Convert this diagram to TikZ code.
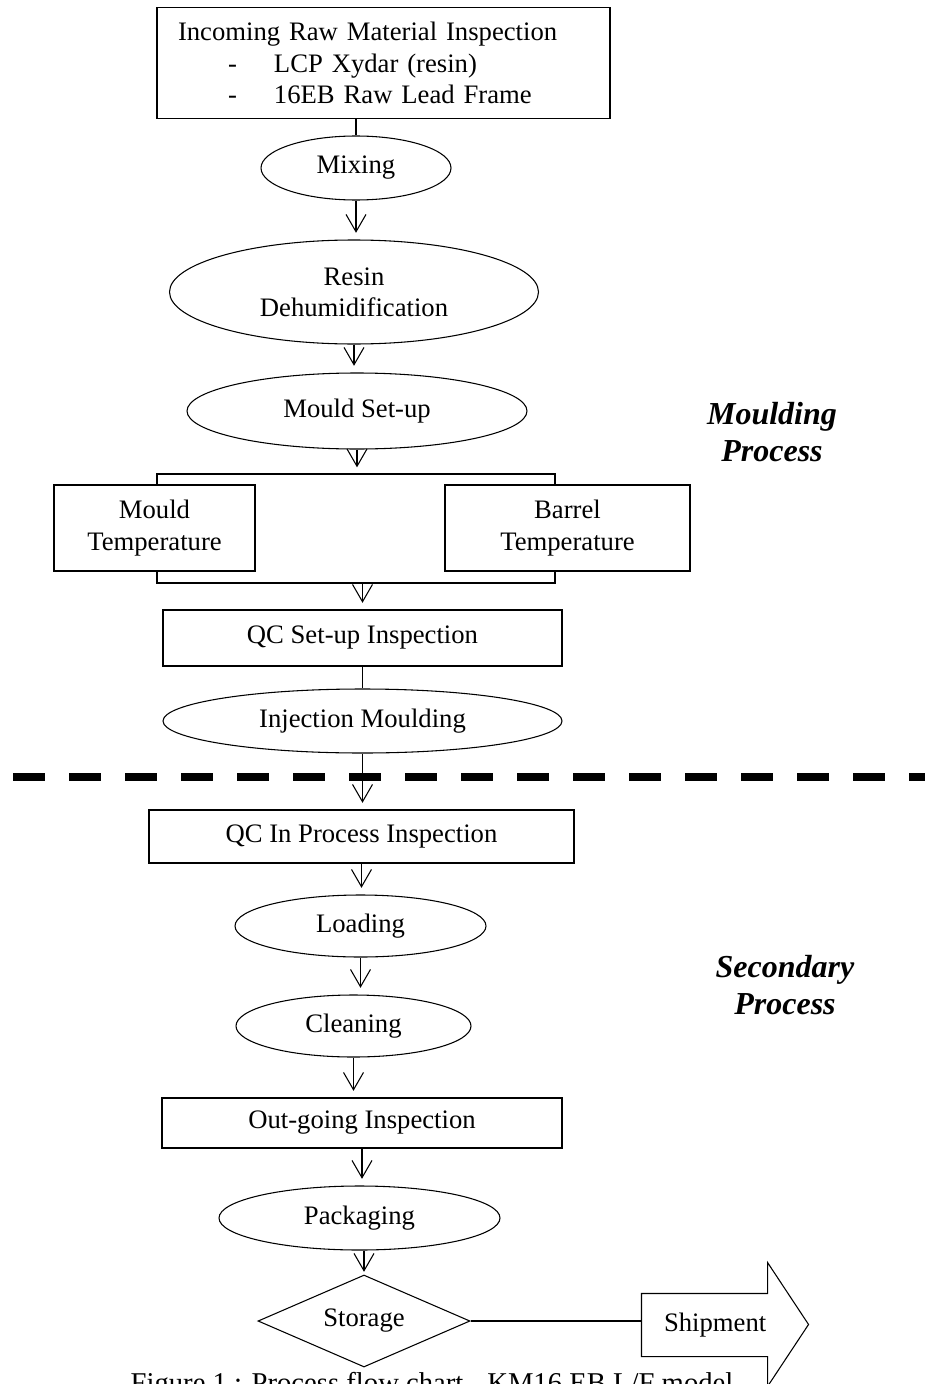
\documentclass[tikz,border=0pt]{standalone}
\usepackage{fontspec}
\setmainfont{Liberation Serif}
\usetikzlibrary{shapes.geometric,arrows.meta}
\newcommand{\itemline}[1]{\makebox[72pt][l]{\hspace*{37.5pt}-}#1}
\tikzset{
	stepnode/.style = {align=center, inner sep=0pt, text centered, line width=0.8pt, font=\fontsize{20}{23.5}\selectfont},
	procbox/.style = {stepnode, rectangle, draw=black},
	procell/.style = {stepnode, ellipse, draw=black},
	decide/.style = {stepnode, diamond, draw=black, aspect=2.2},
	boxsize/.style 2 args = {minimum width=#1*0.75pt, minimum height=#2*0.75pt},
	flow/.style = {draw=black, line width=0.8pt, -{Straight Barb[length=13pt,width=15pt]}, shorten >=5pt},
	link/.style = {draw=black, line width=0.8pt},
	stage/.style = {align=center, font=\fontsize{24}{28}\selectfont\bfseries\itshape},
	divide/.style = {line width=6pt, dash pattern=on 24pt off 18pt}
}
\begin{document}
\begin{tikzpicture}[x=0.75pt, y=-0.75pt]
	\useasboundingbox (0,0) rectangle (925,1384);
	\node [procbox, boxsize={453}{111}, align=left, text width=308.25pt, inner xsep=15.75pt] (inc) at (383.5,63) {Incoming Raw Material Inspection\\\itemline{LCP Xydar (resin)}\\\itemline{16EB Raw Lead Frame}};
	\node [procell, boxsize={190}{64}] (mix) at (356,168) {Mixing};
	\node [procell, boxsize={369}{104}] (resin) at (354,292) {Resin\\Dehumidification};
	\node [procell, boxsize={340}{76}] (mset) at (357,411) {Mould Set-up};
	\node [procbox, boxsize={201}{86}] (mtemp) at (154.5,528) {Mould\\Temperature};
	\node [procbox, boxsize={245}{86}] (btemp) at (567.5,528) {Barrel\\Temperature};
	\node [procbox, boxsize={399}{56}] (qcset) at (362.5,638) {QC Set-up Inspection};
	\node [procell, boxsize={399}{64}] (inj) at (362.5,721) {Injection Moulding};
	\node [procbox, boxsize={425}{53}] (qcin) at (361.5,836.5) {QC In Process Inspection};
	\node [procell, boxsize={251}{62}] (load) at (360.5,926) {Loading};
	\node [procell, boxsize={235}{62}] (clean) at (353.5,1026) {Cleaning};
	\node [procbox, boxsize={400}{50}] (outgo) at (362,1123) {Out-going Inspection};
	\node [procell, boxsize={281}{64}] (pack) at (359.5,1218) {Packaging};
	\node [decide, boxsize={212}{92}] (stor) at (364,1321) {Storage};
	\node [stepnode, boxsize={125}{62}] (ship) at (704.5,1325) {\hspace*{16pt}Shipment};
	\draw [link] (ship.north east) -- ++(0,-31) -- ++(41,62) -- ++(-41,62) -- (ship.south east) -- (ship.south west) -- (ship.north west) -- cycle;
	\node [stage] (mould) at (772,432) {Moulding\\Process};
	\node [stage] (second) at (785,985) {Secondary\\Process};
	\node [stepnode, anchor=base, font=\fontsize{21.5}{25}\selectfont] (caption) at (432,1392) {Figure 1 : Process flow chart - KM16 EB L/F model};
	\draw [divide] (13,777) -- (925,777);
	\coordinate (topl) at (157,474);
	\coordinate (topr) at (555,474);
	\coordinate (botl) at (157,583);
	\coordinate (botr) at (555,583);
	\draw [link] (mix.north |- inc.south) -- (mix.north);
	\draw [flow] (mix.south) -- (mix.south |- resin.north);
	\draw [flow] (resin.south) -- (resin.south |- mset.north);
	\draw [flow] (mset.south) -- (mset.south |- topl);
	\draw [link] (mtemp.north -| topl) -- (topl) -- (topr) -- (btemp.north -| topr);
	\draw [link] (mtemp.south -| botl) -- (botl) -- (botr) -- (btemp.south -| botr);
	\draw [flow] (qcset.north |- botl) -- (qcset.north);
	\draw [link] (qcset.south) -- (qcset.south |- inj.north);
	\draw [flow] (inj.south) -- (inj.south |- qcin.north);
	\draw [flow] (qcin.south) -- (qcin.south |- load.north);
	\draw [flow] (load.south) -- (load.south |- clean.north);
	\draw [flow] (clean.south) -- (clean.south |- outgo.north);
	\draw [flow] (outgo.south) -- (outgo.south |- pack.north);
	\draw [flow, shorten >=2pt] (stor.north |- pack.south) -- (stor.north);
	\draw [link] (stor.east) -- (stor.east -| ship.west);
\end{tikzpicture}
\end{document}
